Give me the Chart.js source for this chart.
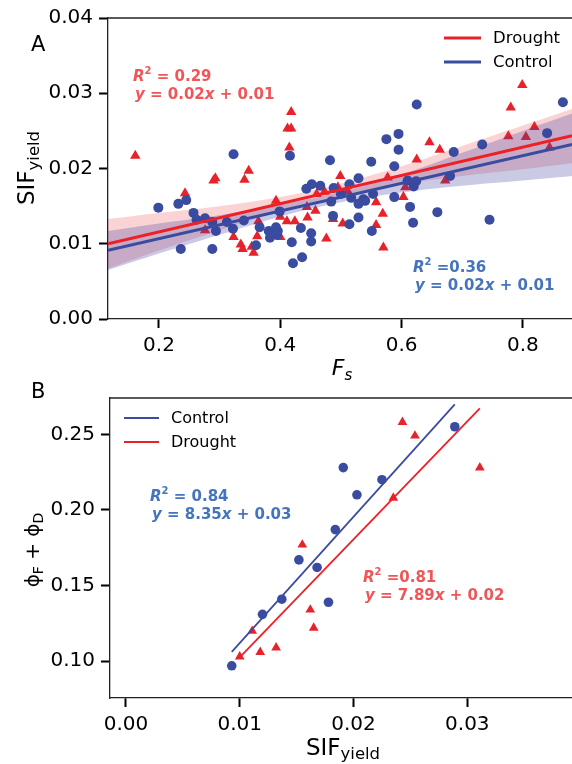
<!DOCTYPE html>
<html>
<head>
<meta charset="utf-8">
<script src="https://cdn.jsdelivr.net/npm/chart.js@4"></script>
<style>
  html, body { margin: 0; padding: 0; background: #fff; }
  #wrapA { position: absolute; left: 0; top: 0; width: 572px; height: 380px; }
  #wrapB { position: absolute; left: 0; top: 380px; width: 572px; height: 384px; }
</style>
</head>
<body>
<div id="wrapA"><canvas id="chartA" width="572" height="380"></canvas></div>
<div id="wrapB"><canvas id="chartB" width="572" height="384"></canvas></div>
<script>
// ---- panel A : F_s vs SIF_yield ----
const fsControl = [0.199, 0.232, 0.245, 0.257, 0.262, 0.276, 0.288, 0.294, 0.236, 0.288,
  0.312, 0.322, 0.340, 0.323, 0.360, 0.366, 0.381, 0.383, 0.393, 0.395,
  0.396, 0.399, 0.416, 0.419, 0.421, 0.436, 0.434, 0.443, 0.452, 0.466,
  0.451, 0.451, 0.482, 0.484, 0.488, 0.487, 0.500, 0.514, 0.517, 0.514,
  0.529, 0.529, 0.537, 0.540, 0.529, 0.553, 0.551, 0.550, 0.575, 0.595,
  0.595, 0.588, 0.588, 0.610, 0.620, 0.624, 0.614, 0.619, 0.625, 0.659,
  0.680, 0.686, 0.733, 0.745, 0.840, 0.866];
const sifControl = [0.0148, 0.0153, 0.0158, 0.0141, 0.0132, 0.0134, 0.0129, 0.0117, 0.0093, 0.0093,
  0.0129, 0.0120, 0.0131, 0.0219, 0.0098, 0.0122, 0.0117, 0.0108, 0.0122, 0.0112,
  0.0117, 0.0143, 0.0217, 0.0102, 0.0074, 0.0082, 0.0121, 0.0173, 0.0179, 0.0177,
  0.0114, 0.0103, 0.0211, 0.0156, 0.0174, 0.0137, 0.0166, 0.0179, 0.0161, 0.0126,
  0.0187, 0.0153, 0.0159, 0.0157, 0.0135, 0.0166, 0.0117, 0.0209, 0.0239, 0.0246,
  0.0225, 0.0203, 0.0162, 0.0184, 0.0176, 0.0183, 0.0149, 0.0128, 0.0285, 0.0142,
  0.0190, 0.0222, 0.0232, 0.0132, 0.0247, 0.0288];
const fsDrought = [0.161, 0.243, 0.276, 0.290, 0.293, 0.341, 0.348, 0.323, 0.335, 0.338,
  0.353, 0.356, 0.362, 0.364, 0.393, 0.400, 0.400, 0.411, 0.424, 0.418,
  0.412, 0.418, 0.415, 0.444, 0.445, 0.458, 0.460, 0.473, 0.476, 0.487,
  0.495, 0.499, 0.503, 0.511, 0.558, 0.569, 0.558, 0.570, 0.577, 0.603,
  0.606, 0.625, 0.646, 0.663, 0.672, 0.776, 0.780, 0.799, 0.805, 0.819, 0.844];
const sifDrought = [0.0217, 0.0167, 0.0118, 0.0184, 0.0187, 0.0185, 0.0197, 0.0109, 0.0099, 0.0093,
  0.0096, 0.0088, 0.0110, 0.0130, 0.0157, 0.0136, 0.0109, 0.0130, 0.0130, 0.0275,
  0.0253, 0.0253, 0.0228, 0.0149, 0.0135, 0.0144, 0.0166, 0.0169, 0.0107, 0.0133,
  0.0175, 0.0190, 0.0127, 0.0170, 0.0155, 0.0140, 0.0125, 0.0095, 0.0188, 0.0162,
  0.0175, 0.0212, 0.0235, 0.0225, 0.0184, 0.0243, 0.0281, 0.0311, 0.0242, 0.0255, 0.0228];
// fitted lines (slope, intercept) and confidence bands as drawn
const fitControlA = [0.0184, 0.0070];
const fitDroughtA = [0.0188, 0.0078];
const bandFs = [0.116, 0.2, 0.3, 0.4, 0.5, 0.6, 0.7, 0.8, 0.881];
const bandDroughtHi = [0.0133, 0.0141, 0.0150, 0.0162, 0.0180, 0.0203, 0.0230, 0.0257, 0.0279];
const bandDroughtLo = [0.0067, 0.0091, 0.0118, 0.0144, 0.0164, 0.0179, 0.0190, 0.0199, 0.0207];
const bandControlHi = [0.0117, 0.0127, 0.0138, 0.0152, 0.0169, 0.0192, 0.0221, 0.0250, 0.0273];
const bandControlLo = [0.0065, 0.0087, 0.0112, 0.0136, 0.0155, 0.0168, 0.0177, 0.0184, 0.0190];
const xTicksA = [0.2, 0.4, 0.6, 0.8];
const yTicksA = [0, 0.01, 0.02, 0.03, 0.04];
const statDroughtA = ['= 0.29', '0.02', '0.01'];
const statControlA = ['=0.36', '0.02', '0.01'];

// ---- panel B : SIF_yield vs phiF + phiD ----
const sifControlB = [0.0093, 0.0120, 0.0137, 0.0152, 0.0168, 0.0178, 0.0184, 0.0191, 0.0203, 0.0225, 0.0289];
const phiControlB = [0.097, 0.131, 0.141, 0.167, 0.162, 0.139, 0.187, 0.228, 0.210, 0.220, 0.255];
const sifDroughtB = [0.0100, 0.0111, 0.0118, 0.0132, 0.0155, 0.0162, 0.0165, 0.0235, 0.0243, 0.0254, 0.0311];
const phiDroughtB = [0.103, 0.120, 0.106, 0.109, 0.177, 0.134, 0.122, 0.208, 0.258, 0.249, 0.228];
const fitControlB = [8.35, 0.0285];
const fitDroughtB = [7.8, 0.0245];
const xTicksB = [0, 0.01, 0.02, 0.03];
const yTicksB = [0.10, 0.15, 0.20, 0.25];
const statControlB = ['= 0.84', '8.35', '0.03'];
const statDroughtB = ['=0.81', '7.89', '0.02'];

const RED = '#e8222b', BLUE = '#3a4ca0';
const RED_TXT = '#f05558', BLUE_TXT = '#4574bf';
const FAM = '"DejaVu Sans"';
const f = (s, st) => (st ? st + ' ' : '') + s + 'px ' + FAM;

const pts = (xs, ys) => xs.map((x, i) => ({x: x, y: ys[i]}));
const fitLine = (fit, x0, x1) => [{x: x0, y: fit[0] * x0 + fit[1]}, {x: x1, y: fit[0] * x1 + fit[1]}];

function axis(min, max, ticks, digits, size) {
  return {
    type: 'linear', min: min, max: max,
    afterBuildTicks: s => { s.ticks = ticks.map(v => ({value: v})); },
    afterFit: s => { if (s.isHorizontal()) s.height = size; else s.width = size; },
    grid: {drawOnChartArea: false, tickLength: 9, tickWidth: 2, tickColor: '#000'},
    border: {color: '#222', width: 1.3},
    ticks: {color: '#000', font: {family: 'DejaVu Sans', size: 20}, padding: 6,
      maxRotation: 0, callback: v => v.toFixed(digits)}
  };
}

function richWidth(ctx, parts) {
  let w = 0;
  parts.forEach(p => { ctx.font = p[1]; w += ctx.measureText(p[0]).width; });
  return w;
}
function drawRich(ctx, x, y, parts, color) {
  ctx.fillStyle = color; ctx.textAlign = 'left'; ctx.textBaseline = 'alphabetic';
  parts.forEach(p => {
    ctx.font = p[1];
    ctx.fillText(p[0], x, y + (p[2] || 0));
    x += ctx.measureText(p[0]).width;
  });
}
function drawRotated(ctx, cx, cy, parts) {
  ctx.save();
  ctx.translate(cx, cy);
  ctx.rotate(-Math.PI / 2);
  drawRich(ctx, -richWidth(ctx, parts) / 2, 0, parts, '#000');
  ctx.restore();
}
function drawStats(ctx, x, y, stat, color) {
  drawRich(ctx, x, y, [['R', f(15, 'italic bold')], ['2', f(10, 'bold'), -7], [' ' + stat[0], f(15, 'bold')]], color);
  drawRich(ctx, x + 2, y + 18, [['y', f(15, 'italic bold')], [' = ' + stat[1], f(15, 'bold')],
    ['x', f(15, 'italic bold')], [' + ' + stat[2], f(15, 'bold')]], color);
}
function drawLegend(ctx, x0, x1, items, lw, size) {
  items.forEach(it => {
    ctx.strokeStyle = it[1]; ctx.lineWidth = lw;
    ctx.beginPath(); ctx.moveTo(x0, it[2]); ctx.lineTo(x1, it[2]); ctx.stroke();
    ctx.fillStyle = '#000'; ctx.font = f(size); ctx.textAlign = 'left'; ctx.textBaseline = 'middle';
    ctx.fillText(it[0], x1 + 12, it[2] + 1);
  });
}
function topSpine(ctx, a) {
  ctx.strokeStyle = '#222'; ctx.lineWidth = 1.3;
  ctx.beginPath(); ctx.moveTo(a.left, a.top); ctx.lineTo(a.right, a.top); ctx.stroke();
}

const decorA = {
  id: 'decorA',
  afterDraw(chart) {
    const ctx = chart.ctx, a = chart.chartArea;
    ctx.save();
    topSpine(ctx, a);
    drawLegend(ctx, 444, 481, [['Drought', RED, 38], ['Control', BLUE, 62]], 3, 16.5);
    drawStats(ctx, 133, 81, statDroughtA, RED_TXT);
    drawStats(ctx, 413, 272, statControlA, BLUE_TXT);
    drawRich(ctx, 31, 51, [['A', f(21)]], '#000');
    drawRotated(ctx, 34, 168, [['SIF', f(23)], ['yield', f(16.5), 5]]);
    const xt = [['F', f(22, 'italic')], ['s', f(15, 'italic'), 5]];
    drawRich(ctx, 342 - richWidth(ctx, xt) / 2, 375, xt, '#000');
    ctx.restore();
  }
};

const decorB = {
  id: 'decorB',
  afterDraw(chart) {
    const ctx = chart.ctx, a = chart.chartArea;
    ctx.save();
    topSpine(ctx, a);
    drawLegend(ctx, 124, 159, [['Control', BLUE, 38], ['Drought', RED, 62]], 2, 16);
    drawStats(ctx, 150, 121, statControlB, BLUE_TXT);
    drawStats(ctx, 363, 202, statDroughtB, RED_TXT);
    drawRich(ctx, 31, 18, [['B', f(21)]], '#000');
    drawRotated(ctx, 39, 170, [['ϕ', f(20)], ['F', f(14), 4], [' + ', f(20)], ['ϕ', f(20)], ['D', f(14), 4]]);
    const xt = [['SIF', f(23)], ['yield', f(16.5), 4]];
    drawRich(ctx, 343 - richWidth(ctx, xt) / 2, 375, xt, '#000');
    ctx.restore();
  }
};

const common = {
  responsive: false, animation: false, events: [],
  plugins: {legend: {display: false}, tooltip: {enabled: false}}
};

const xMinA = 0.116, xMaxA = 0.881;
new Chart(document.getElementById('chartA'), {
  type: 'scatter',
  data: {
    datasets: [
      {data: pts(fsDrought, sifDrought), pointStyle: 'triangle', pointRadius: 6, backgroundColor: RED, borderWidth: 0, order: 6},
      {data: pts(bandFs, bandDroughtHi), type: 'line', fill: '+1', backgroundColor: 'rgba(232,34,43,0.2)', borderWidth: 0, pointRadius: 0, tension: 0.4, order: 5},
      {data: pts(bandFs, bandDroughtLo), type: 'line', fill: false, borderWidth: 0, pointRadius: 0, tension: 0.4, order: 5},
      {data: pts(fsControl, sifControl), pointStyle: 'circle', pointRadius: 5, backgroundColor: BLUE, borderWidth: 0, order: 4},
      {data: pts(bandFs, bandControlHi), type: 'line', fill: '+1', backgroundColor: 'rgba(58,60,160,0.27)', borderWidth: 0, pointRadius: 0, tension: 0.4, order: 3},
      {data: pts(bandFs, bandControlLo), type: 'line', fill: false, borderWidth: 0, pointRadius: 0, tension: 0.4, order: 3},
      {data: fitLine(fitDroughtA, xMinA, xMaxA), type: 'line', borderColor: '#ee2026', borderWidth: 3, pointRadius: 0, fill: false, order: 2},
      {data: fitLine(fitControlA, xMinA, xMaxA), type: 'line', borderColor: BLUE, borderWidth: 3, pointRadius: 0, fill: false, order: 1}
    ]
  },
  options: Object.assign({}, common, {
    layout: {autoPadding: false, padding: {top: 16, right: 0, left: 0, bottom: 0}},
    scales: {
      x: axis(xMinA, xMaxA, xTicksA, 1, 61),
      y: axis(0, 0.04, yTicksA, 2, 108)
    }
  }),
  plugins: [decorA]
});

const sxC = Math.min(...sifControlB), exC = Math.max(...sifControlB);
const sxD = Math.min(...sifDroughtB), exD = Math.max(...sifDroughtB);
new Chart(document.getElementById('chartB'), {
  type: 'scatter',
  data: {
    datasets: [
      {data: pts(sifControlB, phiControlB), pointStyle: 'circle', pointRadius: 4.8, backgroundColor: BLUE, borderWidth: 0, order: 4},
      {data: pts(sifDroughtB, phiDroughtB), pointStyle: 'triangle', pointRadius: 5.6, backgroundColor: RED, borderWidth: 0, order: 3},
      {data: fitLine(fitControlB, sxC, exC), type: 'line', borderColor: BLUE, borderWidth: 1.8, pointRadius: 0, fill: false, order: 2},
      {data: fitLine(fitDroughtB, sxD, exD), type: 'line', borderColor: '#ee2026', borderWidth: 1.8, pointRadius: 0, fill: false, order: 1}
    ]
  },
  options: Object.assign({}, common, {
    layout: {autoPadding: false, padding: {top: 17, right: 0, left: 0, bottom: 0}},
    scales: {
      x: axis(-0.0014, 0.0392, xTicksB, 2, 66),
      y: axis(0.0757, 0.274, yTicksB, 2, 110)
    }
  }),
  plugins: [decorB]
});
</script>
</body>
</html>
